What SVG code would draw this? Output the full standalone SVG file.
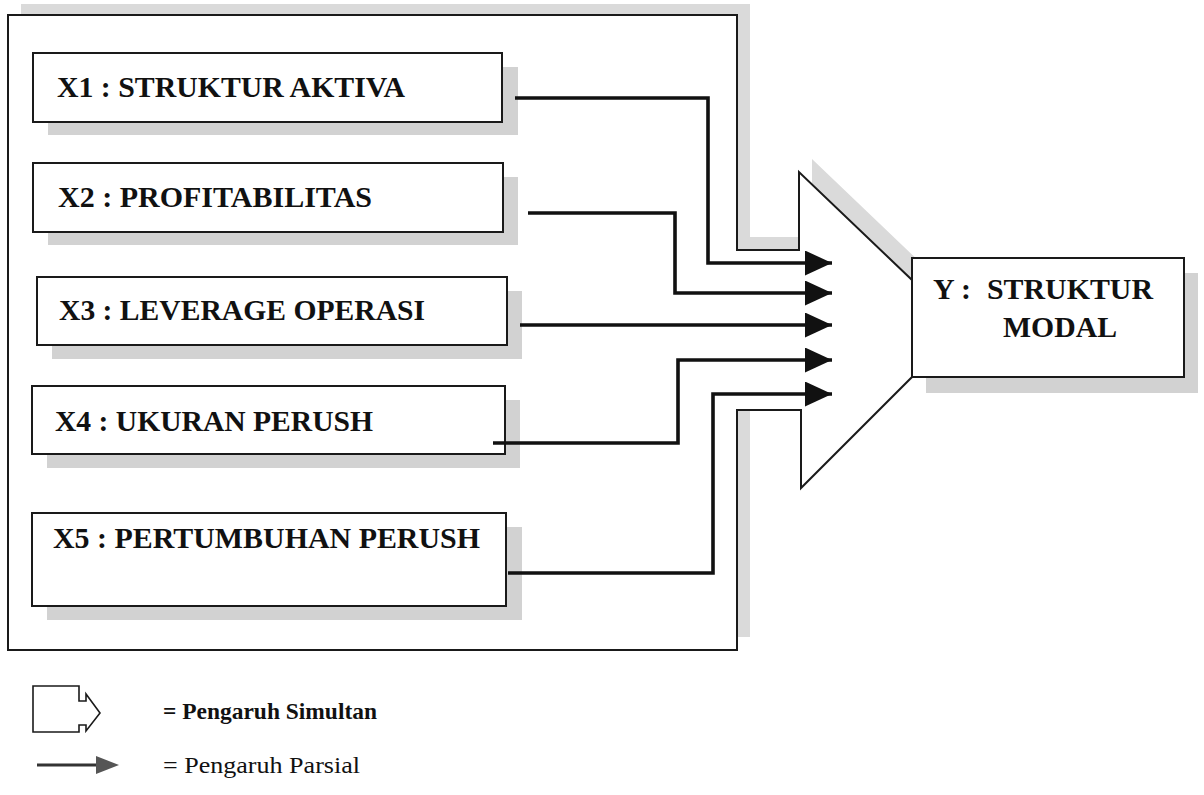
<svg xmlns="http://www.w3.org/2000/svg" width="1204" height="795" viewBox="0 0 1204 795">
<defs>
<style>
.box{fill:#fff;stroke:#1a1a1a;stroke-width:2}
.shadow{fill:#d2d2d2}
.fshadow{fill:#dadada}
.lbl{font-family:"Liberation Serif","Times New Roman",serif;font-weight:bold;font-size:30px;fill:#111}
.conn{fill:none;stroke:#111;stroke-width:3.6}
.leg{font-family:"Liberation Serif","Times New Roman",serif;font-size:24px;fill:#111}
</style>
<marker id="ah" markerUnits="userSpaceOnUse" markerWidth="30" markerHeight="28" refX="27" refY="12.5" orient="auto">
<path d="M0,0 L27,12.5 L0,25 Z" fill="#111"/>
</marker>
</defs>
<rect width="1204" height="795" fill="#fff"/>

<g id="frame">
<path class="fshadow" d="M21,4 H750 V237 H812 V159 L925,267 V377 H912 L801,488 V410 H750 V637 H21 Z"/>
<path d="M8,15 H737 V250 H799 V172 L912,280 V377 L801,488 V410 H737 V650 H8 Z" fill="#fff" stroke="#1a1a1a" stroke-width="2"/>
</g>

<g id="x1">
<rect class="shadow" x="48" y="67" width="470" height="68"/>
<rect class="box" x="33" y="53" width="469" height="69"/>
<text class="lbl" x="57" y="97" textLength="348" lengthAdjust="spacingAndGlyphs">X1 : STRUKTUR AKTIVA</text>
</g>
<g id="x2">
<rect class="shadow" x="48" y="177" width="470" height="68"/>
<rect class="box" x="33" y="163" width="470" height="69"/>
<text class="lbl" x="58" y="207" textLength="314" lengthAdjust="spacingAndGlyphs">X2 : PROFITABILITAS</text>
</g>
<g id="x3">
<rect class="shadow" x="52" y="291" width="470" height="68"/>
<rect class="box" x="37" y="277" width="470" height="68"/>
<text class="lbl" x="59" y="320" textLength="366" lengthAdjust="spacingAndGlyphs">X3 : LEVERAGE OPERASI</text>
</g>
<g id="x4">
<rect class="shadow" x="47" y="400" width="473" height="68"/>
<rect class="box" x="32" y="386" width="473" height="68"/>
<text class="lbl" x="55" y="431" textLength="318" lengthAdjust="spacingAndGlyphs">X4 : UKURAN PERUSH</text>
</g>
<g id="x5">
<rect class="shadow" x="47" y="527" width="475" height="93"/>
<rect class="box" x="32" y="513" width="474" height="93"/>
<text class="lbl" x="53" y="548" textLength="427" lengthAdjust="spacingAndGlyphs">X5 : PERTUMBUHAN PERUSH</text>
</g>

<g id="y">
<rect class="shadow" x="926" y="273" width="272" height="120"/>
<rect class="box" x="912" y="258" width="272" height="119"/>
<text class="lbl" x="933" y="299">Y :</text>
<text class="lbl" x="987" y="299" textLength="166" lengthAdjust="spacingAndGlyphs">STRUKTUR</text>
<text class="lbl" x="1003" y="337" textLength="114" lengthAdjust="spacingAndGlyphs">MODAL</text>
</g>

<g id="connectors">
<path class="conn" marker-end="url(#ah)" d="M515,98 H708 V263 H832"/>
<path class="conn" marker-end="url(#ah)" d="M528,213 H675 V293 H832"/>
<path class="conn" marker-end="url(#ah)" d="M520,325 H832"/>
<path class="conn" marker-end="url(#ah)" d="M493,443 H678 V360 H832"/>
<path class="conn" marker-end="url(#ah)" d="M508,573 H713 V394 H832"/>
</g>

<g id="legend">
<path d="M33,686 H79 V701 H86 V694 L100,713 L86,731 V725 H79 V732 H33 Z" fill="#fff" stroke="#1a1a1a" stroke-width="1.6"/>
<text class="leg" x="163" y="719" font-weight="bold" textLength="214" lengthAdjust="spacingAndGlyphs">= Pengaruh Simultan</text>
<line x1="37" y1="765" x2="98" y2="765" stroke="#333" stroke-width="3"/>
<path d="M96,756 L119,765 L96,774 Z" fill="#555"/>
<text class="leg" x="163" y="773" fill="#333" textLength="197" lengthAdjust="spacingAndGlyphs">= Pengaruh Parsial</text>
</g>
</svg>
